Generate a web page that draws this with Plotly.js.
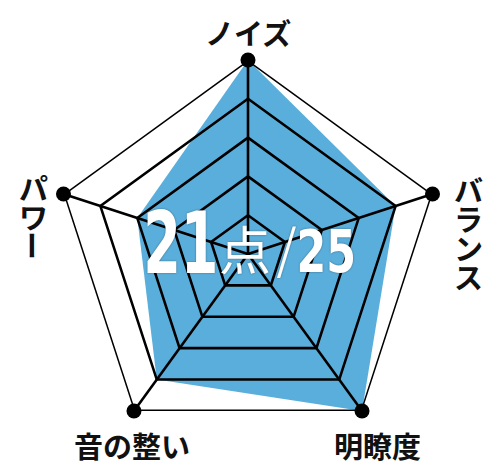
<!DOCTYPE html>
<html>
<head>
<meta charset="utf-8">
<script src="https://cdn.plot.ly/plotly-3.0.1.min.js"></script>
<style>
  html, body { margin: 0; padding: 0; background: #ffffff; }
  #chart { width: 500px; height: 473px; }
</style>
</head>
<body>
<div id="chart"></div>
<script>
// radar data
var categories = ['ノイズ', 'バランス', '明瞭度', '音の整い', 'パワー'];
var scores = [5, 4, 5, 4, 3];
var maxScore = 5;
var gridLevels = [1, 2, 3, 4, 5];
var totalScore = '21';
var totalUnit = '点';
var totalMax = '25';

// label placement (paper px) and writing direction per category
var labelPos = [
    { x: 248, y: 32, vertical: false },
    { x: 468, y: 175, vertical: true },
    { x: 377, y: 445, vertical: false },
    { x: 132, y: 445, vertical: false },
    { x: 33, y: 173, vertical: true }
];

var W = 500, H = 473;
var blue = '#5aaedb';
var jpFont = '"Noto Sans CJK JP", "Noto Sans", sans-serif';
var numFont = '"Liberation Sans Narrow", "DejaVu Sans Condensed", "Liberation Sans", Arial, sans-serif';

function closed(arr) { return arr.concat([arr[0]]); }

var traces = [];

// blue score area
traces.push({
    type: 'scatterpolar',
    r: closed(scores),
    theta: closed(categories),
    mode: 'lines',
    fill: 'toself',
    fillcolor: blue,
    line: { color: blue, width: 0 },
    hoverinfo: 'skip'
});

// pentagon grid drawn over the fill
gridLevels.forEach(function(lv) {
    traces.push({
        type: 'scatterpolar',
        r: closed(categories.map(function() { return lv; })),
        theta: closed(categories),
        mode: 'lines',
        line: { color: '#000000', width: lv === maxScore ? 3 : 2.6 },
        hoverinfo: 'skip'
    });
});

// spokes
categories.forEach(function(c) {
    traces.push({
        type: 'scatterpolar',
        r: [0, maxScore],
        theta: [c, c],
        mode: 'lines',
        line: { color: '#000000', width: 2.6 },
        hoverinfo: 'skip'
    });
});

// vertex dots
traces.push({
    type: 'scatterpolar',
    r: categories.map(function() { return maxScore; }),
    theta: categories,
    mode: 'markers',
    marker: { color: '#000000', size: 15 },
    hoverinfo: 'skip'
});

var annotations = [];

categories.forEach(function(c, i) {
    var p = labelPos[i];
    if (!p.vertical) {
        annotations.push({
            xref: 'paper', yref: 'paper',
            x: p.x / W, y: 1 - p.y / H,
            text: c, showarrow: false,
            xanchor: 'center', yanchor: 'middle',
            font: { family: jpFont, size: 29, color: '#111111', weight: 700 }
        });
    } else {
        // one annotation per character for vertical writing
        Array.from(c).forEach(function(ch, k) {
            annotations.push({
                xref: 'paper', yref: 'paper',
                x: p.x / W, y: 1 - (p.y + 14 + k * 29) / H,
                text: ch, showarrow: false,
                textangle: ch === 'ー' ? 90 : 0,
                xanchor: 'center', yanchor: 'middle',
                font: { family: jpFont, size: 29, color: '#111111', weight: 700 }
            });
        });
    }
});

// centre score text
var shadow = '0px 0px 2px rgba(0,0,0,0.45)';
annotations.push({
    xref: 'paper', yref: 'paper', x: 181 / W, y: 1 - 243 / H,
    text: totalScore, showarrow: false, xanchor: 'center', yanchor: 'middle',
    font: { family: numFont, size: 86, color: '#ffffff', weight: 700, shadow: shadow }
});
annotations.push({
    xref: 'paper', yref: 'paper', x: 245 / W, y: 1 - 247 / H,
    text: totalUnit, showarrow: false, xanchor: 'center', yanchor: 'middle',
    font: { family: jpFont, size: 52, color: '#ffffff', weight: 400, shadow: shadow }
});
annotations.push({
    xref: 'paper', yref: 'paper', x: 286 / W, y: 1 - 250 / H,
    text: '/', showarrow: false, xanchor: 'center', yanchor: 'middle',
    font: { family: '"DejaVu Sans", sans-serif', size: 62, color: '#ffffff', weight: 200, shadow: shadow }
});
annotations.push({
    xref: 'paper', yref: 'paper', x: 326 / W, y: 1 - 252 / H,
    text: totalMax, showarrow: false, xanchor: 'center', yanchor: 'middle',
    font: { family: numFont, size: 58, color: '#ffffff', weight: 700, shadow: shadow }
});

var layout = {
    width: W,
    height: H,
    margin: { l: 0, r: 0, t: 0, b: 0 },
    paper_bgcolor: '#ffffff',
    showlegend: false,
    polar: {
        domain: { x: [54 / W, 442 / W], y: [25 / H, 413 / H] },
        bgcolor: 'rgba(0,0,0,0)',
        gridshape: 'linear',
        radialaxis: {
            range: [0, maxScore],
            showgrid: false, showline: false, showticklabels: false, ticks: ''
        },
        angularaxis: {
            direction: 'clockwise', rotation: 90,
            showgrid: false, showline: false, showticklabels: false, ticks: ''
        }
    },
    annotations: annotations
};

// the score digits in the original are a condensed face; squeeze them horizontally
var condense = {};
condense[totalScore] = 0.7;
condense[totalMax] = 0.82;

Plotly.newPlot('chart', traces, layout, { displayModeBar: false, staticPlot: true }).then(function(gd) {
    gd.querySelectorAll('.annotation-text').forEach(function(t) {
        var sx = condense[t.textContent];
        if (!sx) return;
        var b = t.getBBox();
        var cx = b.x + b.width / 2;
        t.setAttribute('transform', 'translate(' + (cx * (1 - sx)) + ',0) scale(' + sx + ',1)');
    });
});
</script>
</body>
</html>
